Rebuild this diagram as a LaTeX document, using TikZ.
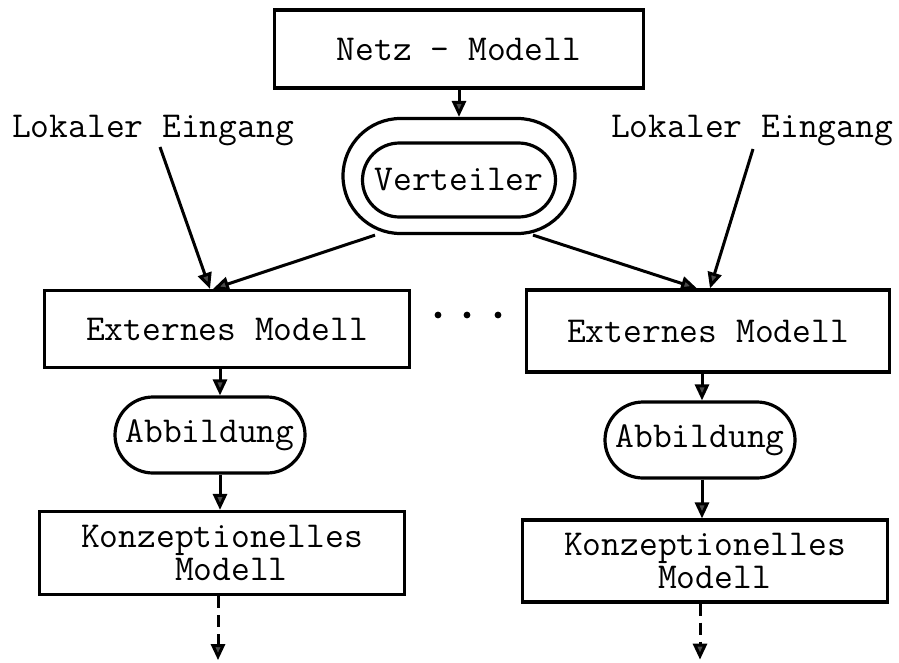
\documentclass[tikz,border=0pt]{standalone}
\usetikzlibrary{arrows.meta,shapes.misc,calc}
\begin{document}
\begin{tikzpicture}[x=1pt,y=-1pt,
  txt/.style={font=\ttfamily\fontsize{36.5}{33}\selectfont},
  boxn/.style={draw,line width=3.2pt,rectangle,inner sep=0pt,txt,align=center},
  pill/.style={draw,line width=3.2pt,rounded rectangle,inner sep=0pt,txt},
  arr/.style={line width=3pt,-{Triangle[length=16pt,width=14pt,fill=black!70]}},
  darr/.style={arr,dash pattern=on 12pt off 7pt}]
\useasboundingbox (0,0) rectangle (899,662);
% top
\node[boxn,minimum width=369pt,minimum height=78pt] (netz) at (459,49) {Netz - Modell};
\node[pill,minimum width=232pt,minimum height=115pt] (vout) at (459,176) {};
\node[pill,minimum width=193pt,minimum height=74pt] (vin) at (459,180) {Verteiler};
\draw[arr] (netz.south) -- (vout.north);
% inputs
\node[txt,anchor=base] (lokL) at (153,137) {Lokaler Eingang};
\node[txt,anchor=base] (lokR) at (752,137) {Lokaler Eingang};
\coordinate (sL) at ([xshift=7pt,yshift=-10pt]lokL.base);
\coordinate (sR) at ([xshift=1pt,yshift=-12pt]lokR.base);
% external models
\node[boxn,minimum width=365pt,minimum height=77pt] (extL) at (227,329) {Externes Modell};
\node[boxn,minimum width=363pt,minimum height=82pt] (extR) at (708,331) {Externes Modell};
\draw[arr] (sL) -- ([xshift=-17pt]extL.north);
\draw[arr] ([xshift=-84pt]vout.south) -- ([xshift=-14pt]extL.north);
\draw[arr] ([xshift=74pt]vout.south) -- ([xshift=-11pt]extR.north);
\draw[arr] (sR) -- ([xshift=2pt]extR.north);
% dots
\foreach \i/\xx in {1/438,2/467,3/498}{\fill (\xx,315) circle (3.4pt);}
% mapping
\node[pill,minimum width=190pt,minimum height=76pt] (abbL) at (210,435) {Abbildung};
\node[pill,minimum width=190pt,minimum height=76pt] (abbR) at (700,440) {Abbildung};
\draw[arr] ([xshift=10pt]abbL.north |- extL.south) -- ([xshift=10pt]abbL.north);
\draw[arr] ([xshift=2pt]abbR.north |- extR.south) -- ([xshift=2pt]abbR.north);
% conceptual
\node[boxn,minimum width=365pt,minimum height=83pt] (konL) at (222,553) {Konzeptionelles\\ \ Modell};
\node[boxn,minimum width=365pt,minimum height=82pt] (konR) at (705,561) {Konzeptionelles\\ \ Modell};
\draw[arr] ([xshift=10pt]abbL.south) -- ([xshift=10pt]abbL.south |- konL.north);
\draw[arr] ([xshift=2pt]abbR.south) -- ([xshift=2pt]abbR.south |- konR.north);
\coordinate (eL) at ([xshift=-4pt,yshift=-64pt]konL.south);
\coordinate (eR) at ([xshift=-5pt,yshift=-56pt]konR.south);
\draw[darr] ([xshift=-4pt]konL.south) -- (eL);
\draw[darr] ([xshift=-5pt]konR.south) -- (eR);
\end{tikzpicture}
\end{document}
